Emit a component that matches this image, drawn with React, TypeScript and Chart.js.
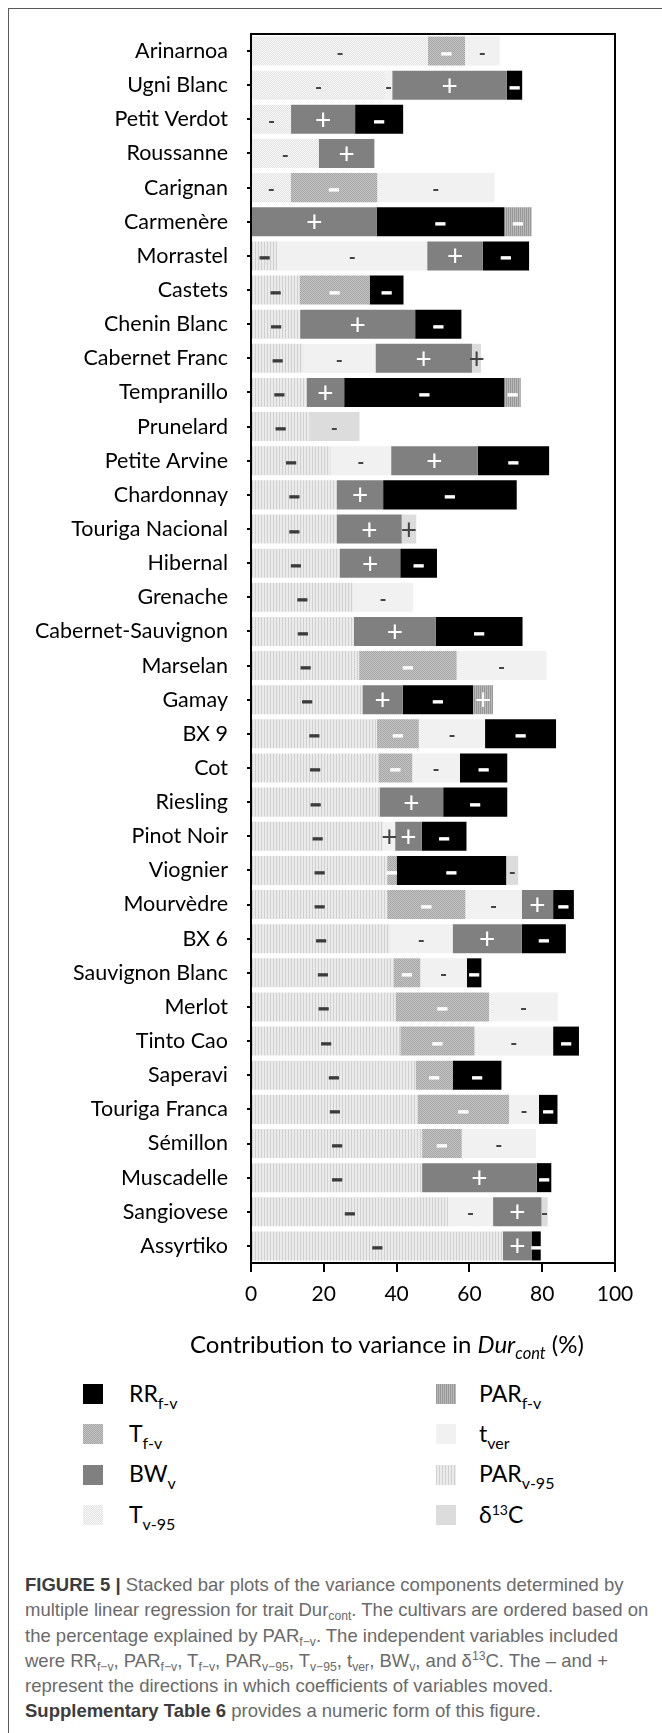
import React, { useEffect, useMemo, useRef } from "react";
import { Chart, registerables } from "chart.js";

Chart.register(...registerables);

// ---------------- data ----------------
const cultivars = [
  "Arinarnoa", "Ugni Blanc", "Petit Verdot", "Roussanne", "Carignan", "Carmenère",
  "Morrastel", "Castets", "Chenin Blanc", "Cabernet Franc", "Tempranillo", "Prunelard",
  "Petite Arvine", "Chardonnay", "Touriga Nacional", "Hibernal", "Grenache", "Cabernet-Sauvignon",
  "Marselan", "Gamay", "BX 9", "Cot", "Riesling", "Pinot Noir",
  "Viognier", "Mourvèdre", "BX 6", "Sauvignon Blanc", "Merlot", "Tinto Cao",
  "Saperavi", "Touriga Franca", "Sémillon", "Muscadelle", "Sangiovese", "Assyrtiko",
];

// segment sizes (% of variance), in stacking order left -> right
const parV95 = [0, 0, 0, 0, 0, 0, 7.2, 13.3, 13.5, 14.3, 15.3, 16.0, 21.8, 23.6, 23.6, 24.4, 28.0, 28.2, 29.7, 30.6, 34.6, 35.0, 35.3, 36.4, 37.4, 37.4, 38.2, 39.2, 39.7, 41.0, 45.2, 45.8, 47.0, 47.0, 54.1, 69.2];
const tV95 = [48.6, 36.8, 11.0, 18.6, 10.9, 0, 0, 0, 0, 0, 0, 0, 0, 0, 0, 0, 0, 0, 0, 0, 0, 0, 0, 0, 0, 0, 0, 0, 0, 0, 0, 0, 0, 0, 0, 0];
const tFV = [10.2, 0, 0, 0, 23.8, 0, 0, 19.3, 0, 0, 0, 0, 0, 0, 0, 0, 0, 0, 26.8, 0, 11.5, 9.3, 0, 0, 2.6, 21.5, 0, 7.3, 25.7, 20.4, 10.2, 25.1, 10.9, 0, 0, 0];
const tVer = [9.5, 2.0, 0, 0, 32.2, 0, 41.2, 0, 0, 19.9, 0, 0, 16.7, 0, 0, 0, 16.5, 0, 24.7, 0, 18.2, 13.1, 0, 3.2, 0, 15.5, 17.2, 12.8, 18.9, 21.6, 0, 8.2, 20.4, 0, 12.4, 0];
const bwV = [0, 31.5, 17.6, 15.3, 0, 34.5, 15.3, 0, 31.6, 26.5, 10.3, 0, 23.8, 12.7, 17.8, 16.6, 0, 22.6, 0, 11.1, 0, 0, 17.5, 7.3, 0, 8.6, 19.0, 0, 0, 0, 0, 0, 0, 31.5, 13.3, 8.0];
const rrFV = [0, 4.2, 13.2, 0, 0, 35.1, 12.7, 9.3, 12.7, 0, 44.0, 0, 19.6, 36.7, 0, 10.1, 0, 23.8, 0, 19.3, 19.5, 13.0, 17.6, 12.3, 30.1, 5.7, 12.1, 4.0, 0, 7.1, 13.4, 5.1, 0, 4.0, 0, 2.4];
const parFV = [0, 0, 0, 0, 0, 7.5, 0, 0, 0, 0, 4.5, 0, 0, 0, 0, 0, 0, 0, 0, 5.5, 0, 0, 0, 0, 0, 0, 0, 0, 0, 0, 0, 0, 0, 0, 0, 0];
const d13C = [0, 0, 0, 0, 0, 0, 0, 0, 0, 2.5, 0, 13.8, 0, 0, 4.0, 0, 0, 0, 0, 0, 0, 0, 0, 0, 3.3, 0, 0, 0, 0, 0, 0, 0, 0, 0, 1.7, 0];

// direction signs per segment (one char per cultivar; "." = none)
const signParV95 = "......" + "------------------------------";
const signTV95 = "-----" + "...............................";
const signTFV = "-...-..-.." + "........-." + "--..--.---" + "---...";
const signTVer = "--..-.-..-" + "..-...-.-." + "--.+.-----" + ".--.-.";
const signBwV = "+".repeat(36);
const signRrFV = "-".repeat(36);
const signParFV = ".....-...." + "-........+" + ".........." + "......";
const signD13C = ".........+" + ".-..+....." + "....-....." + "....-.";

const xTicks = [0, 20, 40, 60, 80, 100];

// ---------------- styles ----------------
type Tile = string[][];
const STYLE: Record<string, { tile: Tile; ink: string; dash: "bold" | "thin" }> = {
  parV95: { tile: [["#d0d0d0", "#ebebeb", "#ebebeb"]], ink: "#3c3c3c", dash: "bold" },
  tV95: { tile: [["#f6f6f6", "#e4e4e4"], ["#e4e4e4", "#f6f6f6"]], ink: "#444444", dash: "thin" },
  tFV: { tile: [["#a6a6a6", "#c4c4c4"], ["#c4c4c4", "#a6a6a6"]], ink: "#ffffff", dash: "bold" },
  tVer: { tile: [["#f1f1f1"]], ink: "#444444", dash: "thin" },
  bwV: { tile: [["#808080"]], ink: "#ffffff", dash: "bold" },
  rrFV: { tile: [["#000000"]], ink: "#ffffff", dash: "bold" },
  parFV: { tile: [["#989898", "#b8b8b8"]], ink: "#ffffff", dash: "bold" },
  d13C: { tile: [["#dcdcdc"]], ink: "#444444", dash: "thin" },
};

const SERIES = [
  { key: "parV95", label: "PAR v-95", data: parV95, signs: signParV95 },
  { key: "tV95", label: "T v-95", data: tV95, signs: signTV95 },
  { key: "tFV", label: "T f-v", data: tFV, signs: signTFV },
  { key: "tVer", label: "t ver", data: tVer, signs: signTVer },
  { key: "bwV", label: "BW v", data: bwV, signs: signBwV },
  { key: "rrFV", label: "RR f-v", data: rrFV, signs: signRrFV },
  { key: "parFV", label: "PAR f-v", data: parFV, signs: signParFV },
  { key: "d13C", label: "δ13C", data: d13C, signs: signD13C },
];

function makeTile(tile: Tile): HTMLCanvasElement {
  const c = document.createElement("canvas");
  c.width = tile[0].length;
  c.height = tile.length;
  const g = c.getContext("2d")!;
  tile.forEach((row, yy) =>
    row.forEach((col, xx) => {
      g.fillStyle = col;
      g.fillRect(xx, yy, 1, 1);
    })
  );
  return c;
}

const signPlugin = {
  id: "signs",
  afterDatasetsDraw(chart: any) {
    const ctx = chart.ctx as CanvasRenderingContext2D;
    ctx.save();
    ctx.textAlign = "center";
    ctx.textBaseline = "alphabetic";
    SERIES.forEach((s, i) => {
      const meta = chart.getDatasetMeta(i);
      const st = STYLE[s.key];
      meta.data.forEach((el: any, j: number) => {
        const v = s.data[j];
        const sg = s.signs[j];
        if (!v || sg === ".") return;
        const p = el.getProps(["x", "base", "y"], true);
        const cx = (p.x + p.base) / 2;
        const cy = p.y;
        ctx.fillStyle = st.ink;
        ctx.strokeStyle = st.ink;
        if (sg === "+") {
          ctx.font = "normal 28px Lato";
          ctx.fillText("+", cx, cy + 10.5);
        } else if (st.dash === "bold") {
          ctx.font = "900 22px Lato";
          ctx.lineWidth = 1.2;
          ctx.fillText("–", cx, cy + 9.5);
          ctx.strokeText("–", cx, cy + 9.5);
        } else {
          ctx.font = "bold 19px Lato";
          ctx.fillText("-", cx, cy + 8.5);
        }
      });
    });
    ctx.restore();
  },
};

const boxPlugin = {
  id: "plotBox",
  afterDatasetsDraw(chart: any) {
    const { ctx, chartArea } = chart;
    ctx.save();
    ctx.strokeStyle = "#000";
    ctx.lineWidth = 2;
    ctx.strokeRect(chartArea.left, chartArea.top, chartArea.right - chartArea.left, chartArea.bottom - chartArea.top);
    ctx.restore();
  },
};

const CANVAS_H = 1330;

export default function App() {
  const ref = useRef<HTMLCanvasElement | null>(null);

  const tileUrls = useMemo(() => {
    const out: Record<string, string> = {};
    Object.keys(STYLE).forEach((k) => {
      out[k] = makeTile(STYLE[k].tile).toDataURL();
    });
    return out;
  }, []);

  useEffect(() => {
    const canvas = ref.current!;
    const ctx = canvas.getContext("2d")!;
    const datasets = SERIES.map((s) => ({
      label: s.label,
      data: s.data,
      backgroundColor: ctx.createPattern(makeTile(STYLE[s.key].tile), "repeat") as any,
      borderWidth: 0,
      barPercentage: 0.85,
      categoryPercentage: 1.0,
    }));
    const chart = new Chart(canvas, {
      type: "bar",
      data: { labels: cultivars, datasets },
      options: {
        indexAxis: "y",
        animation: false,
        responsive: false,
        maintainAspectRatio: false,
        events: [],
        layout: { padding: { left: 0, top: 34, right: 47, bottom: 0 } },
        plugins: { legend: { display: false }, tooltip: { enabled: false }, title: { display: false } },
        scales: {
          x: {
            stacked: true,
            min: 0,
            max: 100,
            afterBuildTicks: (axis: any) => {
              axis.ticks = xTicks.map((v) => ({ value: v }));
            },
            ticks: { color: "#000", font: { family: "Lato", size: 21 }, padding: 10, maxRotation: 0, autoSkip: false },
            grid: { drawOnChartArea: false, drawTicks: true, tickLength: 9, color: "#000", lineWidth: 2 },
            border: { display: false },
            afterFit: (axis: any) => {
              axis.height = CANVAS_H - 1263;
            },
          },
          y: {
            stacked: true,
            ticks: { color: "#000", font: { family: "Lato", size: 21.5 }, padding: 19, autoSkip: false },
            grid: { drawOnChartArea: false, drawTicks: true, tickLength: 4, color: "#000", lineWidth: 2, offset: false },
            border: { display: false },
            afterFit: (axis: any) => {
              axis.width = 251;
            },
          },
        },
      } as any,
      plugins: [boxPlugin, signPlugin],
    });
    return () => chart.destroy();
  }, []);

  const legendRows = [
    { key: "rrFV", main: "RR", sub: "f-v", col: 0, row: 0 },
    { key: "tFV", main: "T", sub: "f-v", col: 0, row: 1 },
    { key: "bwV", main: "BW", sub: "v", col: 0, row: 2 },
    { key: "tV95", main: "T", sub: "v-95", col: 0, row: 3 },
    { key: "parFV", main: "PAR", sub: "f-v", col: 1, row: 0 },
    { key: "tVer", main: "t", sub: "ver", col: 1, row: 1 },
    { key: "parV95", main: "PAR", sub: "v-95", col: 1, row: 2 },
    { key: "d13C", main: "δ", sub: "", col: 1, row: 3 },
  ];

  const subS: React.CSSProperties = { fontSize: 16, verticalAlign: "-7px", lineHeight: 0 };
  const capSub: React.CSSProperties = { fontSize: 12.2, verticalAlign: "-4px", lineHeight: 0 };
  const capSup: React.CSSProperties = { fontSize: 12.2, verticalAlign: "7px", lineHeight: 0 };
  const bold: React.CSSProperties = { fontWeight: 700, color: "#3c3c3c" };

  return (
    <div style={{ position: "absolute", left: 0, top: 0, width: 662, height: 1733, overflow: "hidden", background: "#fff" }}>
      <div
        style={{
          position: "absolute",
          left: 8,
          top: 8,
          width: 660,
          height: 1730,
          borderTop: "1px solid #5a5a5a",
          borderLeft: "1px solid #5a5a5a",
        }}
      />
      <canvas
        ref={ref}
        width={662}
        height={CANVAS_H}
        style={{ position: "absolute", left: 0, top: 0, width: 662, height: CANVAS_H }}
      />
      <div
        style={{
          position: "absolute",
          left: 87,
          top: 1330,
          width: 600,
          textAlign: "center",
          fontFamily: "Lato",
          fontSize: 24,
          lineHeight: "28.8px",
          color: "#000",
          whiteSpace: "nowrap",
        }}
      >
        Contribution to variance in <i>Dur</i>
        <i style={{ fontSize: 16.5, verticalAlign: "-6px", lineHeight: 0 }}>cont</i> (%)
      </div>
      {legendRows.map((r) => {
        const cy = 1394 + 40.4 * r.row;
        const sx = r.col === 0 ? 83 : 436;
        const tx = r.col === 0 ? 129 : 479;
        return (
          <React.Fragment key={r.key}>
            <span
              style={{
                position: "absolute",
                left: sx,
                top: cy - 10,
                width: 20,
                height: 20,
                backgroundImage: `url(${tileUrls[r.key]})`,
                imageRendering: "pixelated",
              }}
            />
            <div
              style={{
                position: "absolute",
                left: tx,
                top: cy - 14.5,
                fontFamily: "Lato",
                fontSize: 23,
                lineHeight: "27.6px",
                color: "#000",
                whiteSpace: "nowrap",
              }}
            >
              {r.key === "d13C" ? (
                <>
                  δ<span style={{ fontSize: 14, verticalAlign: "8px", lineHeight: 0 }}>13</span>C
                </>
              ) : (
                <>
                  {r.main}
                  <span style={subS}>{r.sub}</span>
                </>
              )}
            </div>
          </React.Fragment>
        );
      })}
      <div
        style={{
          position: "absolute",
          left: 25,
          top: 1572,
          fontFamily: "'Liberation Sans', Arial, sans-serif",
          fontSize: 18.5,
          lineHeight: "25.3px",
          color: "#6a6a6a",
          whiteSpace: "nowrap",
        }}
      >
        <div>
          <span style={bold}>FIGURE 5 |</span> Stacked bar plots of the variance components determined by
        </div>
        <div>
          multiple linear regression for trait Dur<span style={capSub}>cont</span>. The cultivars are ordered based on
        </div>
        <div>
          the percentage explained by PAR<span style={capSub}>f−v</span>. The independent variables included
        </div>
        <div>
          were RR<span style={capSub}>f−v</span>, PAR<span style={capSub}>f−v</span>, T<span style={capSub}>f−v</span>, PAR
          <span style={capSub}>v−95</span>, T<span style={capSub}>v−95</span>, t<span style={capSub}>ver</span>, BW
          <span style={capSub}>v</span>, and δ<span style={capSup}>13</span>C. The – and +
        </div>
        <div>represent the directions in which coefficients of variables moved.</div>
        <div>
          <span style={bold}>Supplementary Table 6</span> provides a numeric form of this figure.
        </div>
      </div>
    </div>
  );
}
